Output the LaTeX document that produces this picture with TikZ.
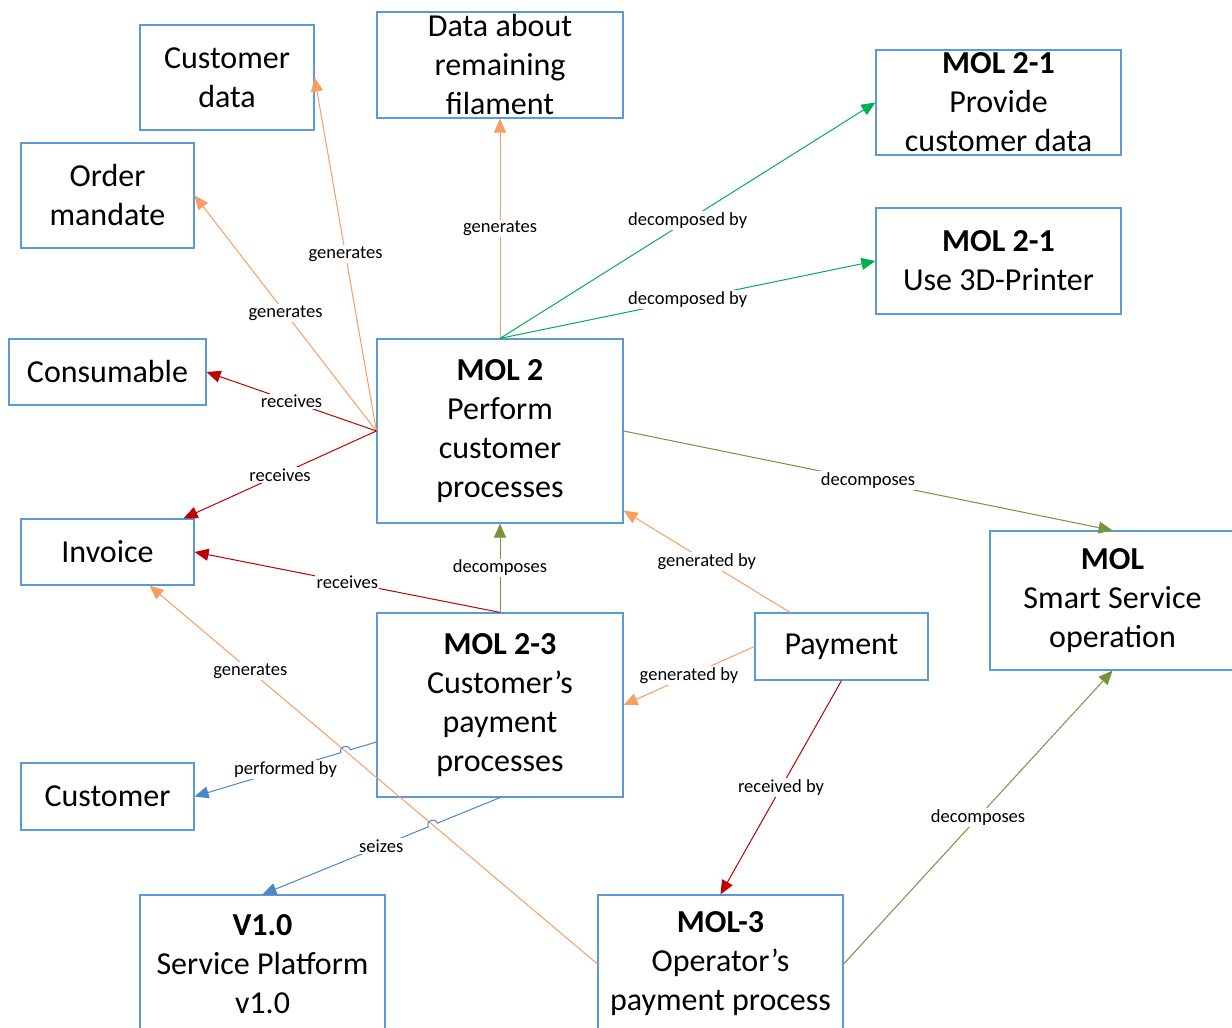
\documentclass[tikz,border=0pt]{standalone}
\usepackage{fontspec}
\setmainfont{Carlito}
\usetikzlibrary{arrows.meta,calc}

\definecolor{boxblue}{RGB}{91,155,213}
\definecolor{lorange}{RGB}{248,158,98}
\definecolor{dred}{RGB}{192,0,0}
\definecolor{lgreen}{RGB}{0,176,80}
\definecolor{olive}{RGB}{119,147,60}
\definecolor{mblue}{RGB}{74,134,200}

\tikzset{
  box/.style={draw=boxblue, line width=1.2pt, inner sep=0pt, align=center,
    font=\fontsize{32}{39}\selectfont},
  conn/.style={line width=1pt, -{Triangle[length=14pt,width=12pt]}},
  gen/.style={conn, draw=lorange},
  rec/.style={conn, draw=dred},
  dec/.style={conn, draw=lgreen},
  ol/.style={conn, draw=olive},
  usr/.style={conn, draw=mblue},
  lbl/.style={fill=white, inner sep=1.5pt, text=black,
    font=\fontsize{18.5}{21}\selectfont},
  hop/.style={bend right=90, looseness=1.7}
}

\begin{document}
\begin{tikzpicture}[x=1pt, y=-1pt]
\useasboundingbox (0,0) rectangle (1232,1028);
\fill[white] (0,0) rectangle (1232,1028);
\clip (0,0) rectangle (1232,1028);

% ---------- boxes ----------
\node[box, minimum width=174pt, minimum height=105pt] (cdata) at (227,77.5) {Customer\\data};
\node[box, minimum width=246pt, minimum height=106pt] (dat) at (500,65) {Data about\\remaining\\filament};
\node[box, minimum width=245pt, minimum height=105pt] (p21) at (998.5,102.5) {\textbf{MOL 2-1}\\Provide\\customer data};
\node[box, minimum width=173pt, minimum height=105pt] (om) at (107.5,195.5) {Order\\mandate};
\node[box, minimum width=245pt, minimum height=106pt] (u21) at (998.5,261) {\textbf{MOL 2-1}\\Use 3D-Printer};
\node[box, minimum width=197pt, minimum height=66pt] (cons) at (107.5,372) {Consumable};
\node[box, minimum width=246pt, minimum height=184pt] (mol2) at (500,431) {\textbf{MOL 2}\\Perform\\customer\\processes};
\node[box, minimum width=173pt, minimum height=66pt] (inv) at (107.5,552) {Invoice};
\node[box, minimum width=245pt, minimum height=139pt] (mol) at (1112.5,600.5) {\textbf{MOL}\\Smart Service\\operation};
\node[box, minimum width=246pt, minimum height=184pt] (m23) at (500,705) {\textbf{MOL 2-3}\\Customer’s\\payment\\processes};
\node[box, minimum width=173pt, minimum height=67pt] (pay) at (841.5,646.5) {Payment};
\node[box, minimum width=173pt, minimum height=67pt] (cust) at (107.5,796.5) {Customer};
\node[box, minimum width=245pt, minimum height=138pt] (v10) at (262.5,964) {\textbf{V1.0}\\Service Platform\\v1.0};
\node[box, minimum width=245pt, minimum height=138pt] (mol3) at (720.5,964) {\textbf{MOL-3}\\Operator’s\\payment process};

% ---------- attachment points ----------
\coordinate (invTR) at ([xshift=-11pt]inv.north east);
\coordinate (invB) at ([xshift=42pt]inv.south);
\coordinate (mol2BR) at ([yshift=13pt]mol2.south east);
\coordinate (payT) at ([xshift=-51.5pt]pay.north);
\coordinate (m23L) at ([yshift=-37pt]m23.west);
\coordinate (m23B) at (m23.south);
\coordinate (custR) at (cust.east);
\coordinate (v10T) at (v10.north);
\coordinate (mol3W) at (mol3.west);

% ---------- connectors from MOL 2 ----------
\draw[gen] (mol2.north) -- (dat.south) node[lbl, midway] {generates};
\draw[gen] (mol2.west) -- (cdata.east) node[lbl, midway] {generates};
\draw[gen] (mol2.west) -- (om.east) node[lbl, midway] {generates};
\draw[rec] (mol2.west) -- (cons.east) node[lbl, midway] {receives};
\draw[rec] (mol2.west) -- (invTR) node[lbl, midway] {receives};
\draw[dec] (mol2.north) -- (p21.west) node[lbl, midway] {decomposed by};
\draw[dec] (mol2.north) -- (u21.west) node[lbl, midway] {decomposed by};
\draw[ol] (mol2.east) -- (mol.north) node[lbl, midway] {decomposes};

% ---------- connectors from MOL 2-3 ----------
\draw[ol] (m23.north) -- (mol2.south) node[lbl, midway] {decomposes};
\draw[rec] (m23.north) -- (inv.east) node[lbl, midway] {receives};

% ---------- connectors from Payment ----------
\draw[gen] (payT) -- (mol2BR) node[lbl, midway] {generated by};
\draw[gen] (pay.west) -- (m23.east) node[lbl, midway] {generated by};
\draw[rec] (pay.south) -- (mol3.north) node[lbl, midway] {received by};

% ---------- connectors from MOL-3 ----------
\draw[ol] (mol3.east) -- (mol.south) node[lbl, midway] {decomposes};
\draw[gen] (mol3W) -- (invB) node[lbl, pos=0.775] {generates};

% ---------- blue connectors hopping over the orange line ----------
\coordinate (X1) at (intersection of m23L--custR and mol3W--invB);
\coordinate (X2) at (intersection of m23B--v10T and mol3W--invB);
\draw[usr] (m23L) -- ($(X1)!5pt!(m23L)$) to[hop] ($(X1)!5pt!(custR)$) -- (custR);
\draw[usr] (m23B) -- ($(X2)!5pt!(m23B)$) to[hop] ($(X2)!5pt!(v10T)$) -- (v10T);
\path (m23L) -- (custR) node[lbl, midway] {performed by};
\path (m23B) -- (v10T) node[lbl, midway] {seizes};
\end{tikzpicture}
\end{document}
